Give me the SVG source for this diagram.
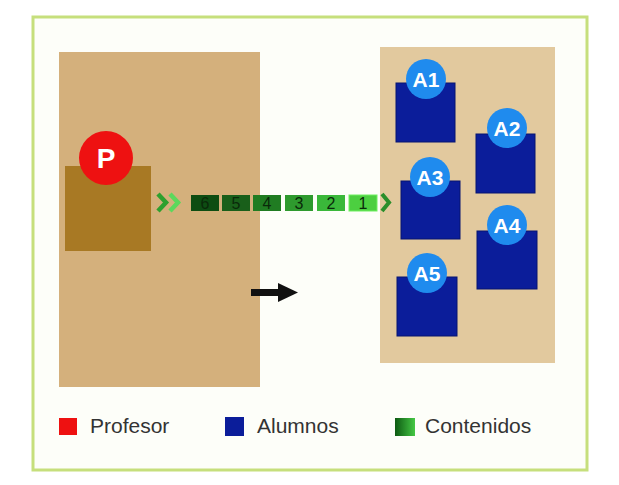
<svg xmlns="http://www.w3.org/2000/svg" width="619" height="485" viewBox="0 0 619 485">
<style>
.lbl{font-family:"Liberation Sans",Arial,sans-serif;font-size:21px;fill:#333}
.al{font-family:"Liberation Sans",Arial,sans-serif;font-size:21px;font-weight:bold;fill:#fff;text-anchor:middle}
.num{font-family:"Liberation Sans",Arial,sans-serif;font-size:16px;fill:#0a2a0a;text-anchor:middle}
.sq{fill:#0b1d9a;stroke:#071470;stroke-width:1}
.cir{fill:#1f8bee}
</style>
<defs>
<linearGradient id="lg" x1="0" y1="0" x2="1" y2="0">
<stop offset="0" stop-color="#0d5a12"/><stop offset="1" stop-color="#45c845"/>
</linearGradient>
</defs>
<rect width="619" height="485" fill="#fff"/>
<rect x="33" y="17" width="554" height="453" fill="#fdfef9" stroke="#c6df7c" stroke-width="3"/>
<g id="aula-profesor">
<rect x="59" y="52" width="201" height="335" fill="#d4b07c"/>
</g>
<g id="aula-alumnos">
<rect x="380" y="47" width="175" height="316" fill="#e2c99e"/>
</g>
<g id="profesor">
<rect x="65" y="166" width="86" height="85" fill="#a87924"/>
<circle cx="106" cy="158" r="27" fill="#ee1111"/>
<text x="106" y="168" font-family="Liberation Sans,Arial,sans-serif" font-size="28" font-weight="bold" fill="#fff" text-anchor="middle">P</text>
</g>
<g id="contenidos">
<path d="M158 194 L166 202.5 L158 211" fill="none" stroke="#2ea02e" stroke-width="4.5"/>
<path d="M170 194 L178 202.5 L170 211" fill="none" stroke="#5cd85c" stroke-width="4.5"/>
<rect x="191" y="195" width="28" height="16" fill="#0d4d12"/>
<rect x="222" y="195" width="28" height="16" fill="#195f1a"/>
<rect x="253" y="195" width="28" height="16" fill="#207c22"/>
<rect x="285" y="195" width="28" height="16" fill="#2e9a2e"/>
<rect x="317" y="195" width="28" height="16" fill="#3ab83a"/>
<rect x="349" y="195" width="28" height="16" fill="#4ccf40" stroke="#6ef060" stroke-width="1"/>
<text class="num" x="205" y="209">6</text>
<text class="num" x="236" y="209">5</text>
<text class="num" x="267" y="209">4</text>
<text class="num" x="299" y="209">3</text>
<text class="num" x="331" y="209">2</text>
<text class="num" x="363" y="209">1</text>
<path d="M382 194 L389 202.5 L382 211" fill="none" stroke="#2a8e2a" stroke-width="4"/>
</g>
<g id="flecha">
<rect x="251" y="289" width="29" height="7" fill="#111"/>
<polygon points="278,283 298,292.5 278,302" fill="#111"/>
</g>
<g id="A1"><rect class="sq" x="396" y="83" width="59" height="59"/><circle class="cir" cx="426" cy="79" r="20"/><text class="al" x="426" y="87">A1</text></g>
<g id="A2"><rect class="sq" x="476" y="134" width="59" height="59"/><circle class="cir" cx="507" cy="128" r="20"/><text class="al" x="507" y="136">A2</text></g>
<g id="A3"><rect class="sq" x="401" y="181" width="59" height="58"/><circle class="cir" cx="430" cy="177" r="20"/><text class="al" x="430" y="185">A3</text></g>
<g id="A4"><rect class="sq" x="477" y="231" width="60" height="58"/><circle class="cir" cx="507" cy="225" r="20"/><text class="al" x="507" y="233">A4</text></g>
<g id="A5"><rect class="sq" x="397" y="277" width="60" height="59"/><circle class="cir" cx="427" cy="273" r="20"/><text class="al" x="427" y="281">A5</text></g>
<g id="leyenda">
<rect x="59" y="418" width="18" height="17" fill="#ee1111"/>
<text class="lbl" x="90" y="433">Profesor</text>
<rect x="225" y="417" width="19" height="19" fill="#0b1d9a"/>
<text class="lbl" x="257" y="433">Alumnos</text>
<rect x="395" y="418" width="20" height="18" fill="url(#lg)"/>
<text class="lbl" x="425" y="433">Contenidos</text>
</g>
</svg>
